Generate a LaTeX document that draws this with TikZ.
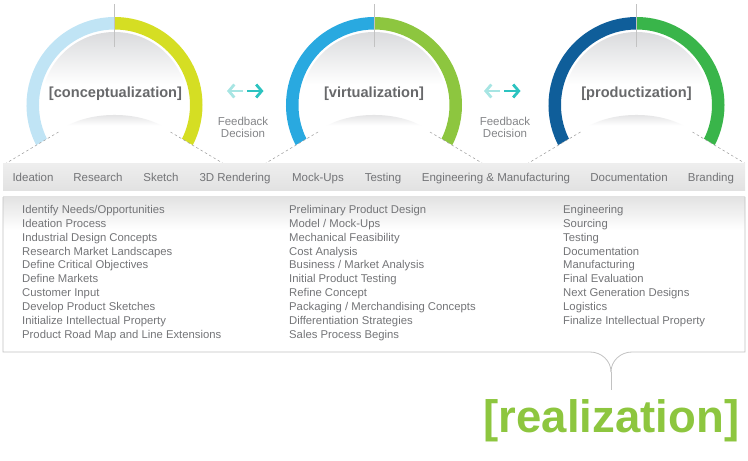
\documentclass[tikz,border=0pt]{standalone}
\usepackage{fontspec}
\setmainfont{Liberation Sans}
\usetikzlibrary{arrows.meta}

\definecolor{txtgray}{HTML}{737477}
\definecolor{fbgray}{HTML}{848588}
\definecolor{titlegray}{HTML}{68696B}
\definecolor{linegray}{HTML}{C2C2C2}
\definecolor{dashgray}{HTML}{9A9A9A}
\definecolor{c1l}{HTML}{C0E4F5}
\definecolor{c1r}{HTML}{D5DE23}
\definecolor{c2l}{HTML}{29A9E0}
\definecolor{c2r}{HTML}{8DC63F}
\definecolor{c3l}{HTML}{0F5E9A}
\definecolor{c3r}{HTML}{39B54A}
\definecolor{fbl}{HTML}{A7E5E3}
\definecolor{fbr}{HTML}{2CC3C0}
\definecolor{realgreen}{HTML}{8DC63F}
\definecolor{discgray}{HTML}{DADBDD}
\definecolor{moundgray}{HTML}{D6D6D8}
\definecolor{bartop}{HTML}{EEEEEE}
\definecolor{barbottom}{HTML}{E2E2E2}
\definecolor{boxgray}{HTML}{E2E2E2}

% soft grey at the top of the inner disc and of the lower dome
\pgfdeclareverticalshading{discfade}{100bp}{color(0bp)=(white); color(57bp)=(white); color(75bp)=(discgray); color(100bp)=(discgray)}
\pgfdeclareverticalshading{moundfade}{100bp}{color(0bp)=(white); color(60bp)=(white); color(75bp)=(moundgray); color(100bp)=(moundgray)}

\tikzset{
  ring/.style={line width=12.5pt},
  centerline/.style={draw=linegray, line width=0.8pt},
  dashline/.style={draw=dashgray, line width=0.5pt, dash pattern=on 2.5pt off 2.5pt},
  title/.style={font=\bfseries\fontsize{14.6}{16}\selectfont, text=titlegray, anchor=base, inner sep=0pt},
  barlabel/.style={font=\fontsize{11.5}{13}\selectfont, text=txtgray, anchor=base, inner sep=0pt},
  listtext/.style={font=\fontsize{11.3}{13.9}\selectfont, text=txtgray, anchor=north west, align=left, inner sep=0pt},
  fbtext/.style={font=\fontsize{11.5}{11.7}\selectfont, text=fbgray, anchor=north, align=center, inner sep=0pt},
  fbarrow/.style={line width=2.8pt, -{Straight Barb[length=5.5pt,width=13pt]}},
  boxline/.style={draw=linegray, line width=0.8pt},
  realtext/.style={font=\bfseries\fontsize{45.5}{50}\selectfont, text=realgreen, anchor=base, inner sep=0pt},
}

\begin{document}
\begin{tikzpicture}[x=1pt,y=1pt]
\useasboundingbox (0,0) rectangle (748,-461);

% three phase gauges: ring, inner disc, dome and dashed flanks
\foreach \cx/\cl/\cr in {114.5/c1l/c1r, 374/c2l/c2r, 636.5/c3l/c3r}{
  \begin{scope}[shift={(\cx,-105)}]
    \shade[shading=discfade] (0,0) circle[radius=73];
    \draw[ring, color=\cl] (212:81.75) arc[start angle=212, end angle=90, radius=81.75];
    \draw[ring, color=\cr] (90:81.75) arc[start angle=90, end angle=-32, radius=81.75];
    \draw[centerline] (0,101) -- (0,58);
    \shade[shading=moundfade] (-56,-27) .. controls (-30,-4.3) and (30,-4.3) .. (56,-27)
        -- (108,-58) -- (-108,-58) -- cycle;
    \draw[dashline] (-56,-27) -- (-108,-58);
    \draw[dashline] (56,-27) -- (108,-58);
  \end{scope}
}

% phase titles
\node[title] (concept) at (115.5,-97) {[conceptualization]};
\node[title] (virtual) at (374,-97) {[virtualization]};
\node[title] (product) at (636.5,-97) {[productization]};

% feedback arrows between the phases
\coordinate (fbAl) at (243,-91);  \coordinate (fbAlt) at (227,-91);
\coordinate (fbAr) at (247,-91);  \coordinate (fbArt) at (263.5,-91);
\coordinate (fbBl) at (500,-91);  \coordinate (fbBlt) at (484,-91);
\coordinate (fbBr) at (504,-91);  \coordinate (fbBrt) at (520.5,-91);
\draw[fbarrow, fbl] (fbAl) -- (fbAlt);
\draw[fbarrow, fbr] (fbAr) -- (fbArt);
\draw[fbarrow, fbl] (fbBl) -- (fbBlt);
\draw[fbarrow, fbr] (fbBr) -- (fbBrt);
\node[fbtext] (fbA) at (243,-117) {Feedback\\Decision};
\node[fbtext] (fbB) at (505,-117) {Feedback\\Decision};

% stage bar
\shade[top color=bartop, bottom color=barbottom] (3,-163) rectangle (745,-190);
\node[barlabel] (ideation) at (33,-181) {Ideation};
\node[barlabel] (research) at (98,-181) {Research};
\node[barlabel] (sketch) at (161,-181) {Sketch};
\node[barlabel] (render) at (235,-181) {3D Rendering};
\node[barlabel] (mockups) at (318,-181) {Mock-Ups};
\node[barlabel] (testing) at (383,-181) {Testing};
\node[barlabel] (engman) at (496,-181) {Engineering \& Manufacturing};
\node[barlabel] (docs) at (629,-181) {Documentation};
\node[barlabel] (branding) at (711,-181) {Branding};

% activity box
\shade[top color=boxgray, bottom color=white] (3,-196) rectangle (745,-230);
\node[listtext] (col1) at (22,-205) {Identify Needs/Opportunities\\Ideation Process\\Industrial Design Concepts\\Research Market Landscapes\\Define Critical Objectives\\Define Markets\\Customer Input\\Develop Product Sketches\\Initialize Intellectual Property\\Product Road Map and Line Extensions};
\node[listtext] (col2) at (289,-205) {Preliminary Product Design\\Model / Mock-Ups\\Mechanical Feasibility\\Cost Analysis\\Business / Market Analysis\\Initial Product Testing\\Refine Concept\\Packaging / Merchandising Concepts\\Differentiation Strategies\\Sales Process Begins};
\node[listtext] (col3) at (563,-205) {Engineering\\Sourcing\\Testing\\Documentation\\Manufacturing\\Final Evaluation\\Next Generation Designs\\Logistics\\Finalize Intellectual Property};

% result
\node[realtext] (real) at (611.5,-432) {[realization]};

% box outline closing into a brace that points at the result
\coordinate (boxTL) at (3,-197);
\coordinate (boxBL) at (3,-352);
\coordinate (boxTR) at (745,-197);
\coordinate (boxBR) at (745,-352);
\coordinate (braceL) at (590,-352);
\coordinate (braceR) at (632,-352);
\coordinate (braceTip) at (611,-372);
\draw[boxline] (boxTL) -- (boxBL) -- (braceL) to[out=0, in=90] (braceTip);
\draw[boxline] (boxTR) -- (boxBR) -- (braceR) to[out=180, in=90] (braceTip);
\draw[boxline, shorten >=9pt] (braceTip) -- (braceTip |- real.north);
\end{tikzpicture}
\end{document}
